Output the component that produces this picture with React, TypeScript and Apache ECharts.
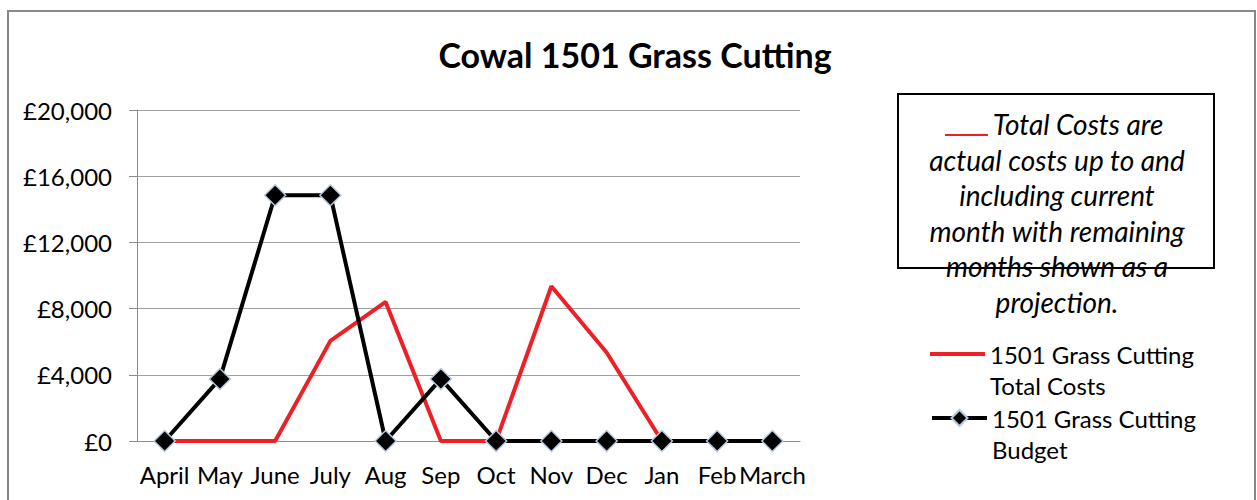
import React, { useEffect, useRef } from "react";
import * as echarts from "echarts";

const months = ["April", "May", "June", "July", "Aug", "Sep", "Oct", "Nov", "Dec", "Jan", "Feb", "March"];
const totalCosts = [0, 0, 0, 6050, 8400, 0, 0, 9350, 5350, 0, 0, 0];
const budget = [0, 3750, 14850, 14850, 0, 3750, 0, 0, 0, 0, 0, 0];
const yMax = 20000;
const yStep = 4000;
const title = "Cowal 1501 Grass Cutting";
const seriesNames = ["1501 Grass Cutting Total Costs", "1501 Grass Cutting Budget"];
const noteLines = [
  "Total Costs are",
  "actual costs up to and",
  "including current",
  "month with remaining",
  "months shown as a",
  "projection.",
];

const FONT = "Lato";

export default function App() {
  const ref = useRef<HTMLDivElement>(null);
  useEffect(() => {
    document.body.style.margin = "0";
    const chart = echarts.init(ref.current!, undefined, { renderer: "svg" });
    const noteGraphics: any[] = noteLines.map((t, i) => ({
      type: "text",
      x: i === 0 ? 1078 : 1057,
      y: 124 + i * 35.6,
      style: {
        text: t,
        font: `italic 28px ${FONT}`,
        fill: "#000",
        textAlign: "center",
        textVerticalAlign: "middle",
      },
    }));
    const legendText = { fontFamily: FONT, fontSize: 24, color: "#000", lineHeight: 31 };
    const legendFmt = (n: string) => " \n" + n.replace("Cutting ", "Cutting\n");
    chart.setOption({
      animation: false,
      backgroundColor: "#fff",
      title: {
        text: title,
        left: 630,
        textAlign: "center",
        top: 32,
        textStyle: { fontFamily: FONT, fontWeight: "bold", fontSize: 34, color: "#000" },
      },
      grid: { left: 137, right: 457, top: 110, bottom: 59, containLabel: false },
      xAxis: {
        type: "category",
        data: months,
        boundaryGap: true,
        axisLine: { lineStyle: { color: "#8c8c8c", width: 1 } },
        axisTick: { show: false },
        axisLabel: { interval: 0, margin: 21, fontFamily: FONT, fontSize: 24, color: "#000" },
      },
      yAxis: {
        type: "value",
        min: 0,
        max: yMax,
        interval: yStep,
        axisLine: { show: true, lineStyle: { color: "#8c8c8c", width: 1 } },
        axisTick: { show: true, length: 8, lineStyle: { color: "#8c8c8c" } },
        splitLine: { lineStyle: { color: "#a0a0a0", width: 1 } },
        axisLabel: {
          margin: 25,
          fontFamily: FONT,
          fontSize: 24,
          color: "#000",
          formatter: (v: number) => "£" + v.toLocaleString("en-GB"),
        },
      },
      legend: [
        {
          orient: "vertical",
          left: 930,
          top: 307.5,
          padding: 0,
          itemWidth: 55,
          itemHeight: 4,
          data: [{ name: seriesNames[0], icon: "rect" }],
          formatter: legendFmt,
          textStyle: legendText,
        },
        {
          orient: "vertical",
          left: 930,
          top: 371.5,
          padding: 0,
          itemWidth: 55,
          itemHeight: 20,
          data: [seriesNames[1]],
          formatter: legendFmt,
          textStyle: legendText,
          lineStyle: { width: 4, color: "#000" },
        },
      ],
      series: [
        {
          name: seriesNames[0],
          type: "line",
          data: totalCosts,
          symbol: "none",
          lineStyle: { color: "#ee2027", width: 4 },
          itemStyle: { color: "#ee2027" },
          z: 2,
        },
        {
          name: seriesNames[1],
          type: "line",
          data: budget,
          symbol: "diamond",
          symbolSize: 21,
          lineStyle: { color: "#000", width: 4 },
          itemStyle: { color: "#000", borderColor: "#b8c8dc", borderWidth: 1.5 },
          z: 3,
        },
      ],
      graphic: [
        {
          type: "rect",
          shape: { x: 8, y: 11, width: 1247, height: 500 },
          style: { fill: "none", stroke: "#888", lineWidth: 2 },
          silent: true,
        },
        ...noteGraphics,
        {
          type: "line",
          shape: { x1: 945, y1: 135, x2: 988, y2: 135 },
          style: { stroke: "#ee2027", lineWidth: 2 },
        },
        {
          type: "rect",
          shape: { x: 898, y: 94, width: 316, height: 174 },
          style: { fill: "none", stroke: "#000", lineWidth: 2 },
        },
      ],
    });
    return () => chart.dispose();
  }, []);
  return <div ref={ref} style={{ width: 1257, height: 500 }} />;
}
